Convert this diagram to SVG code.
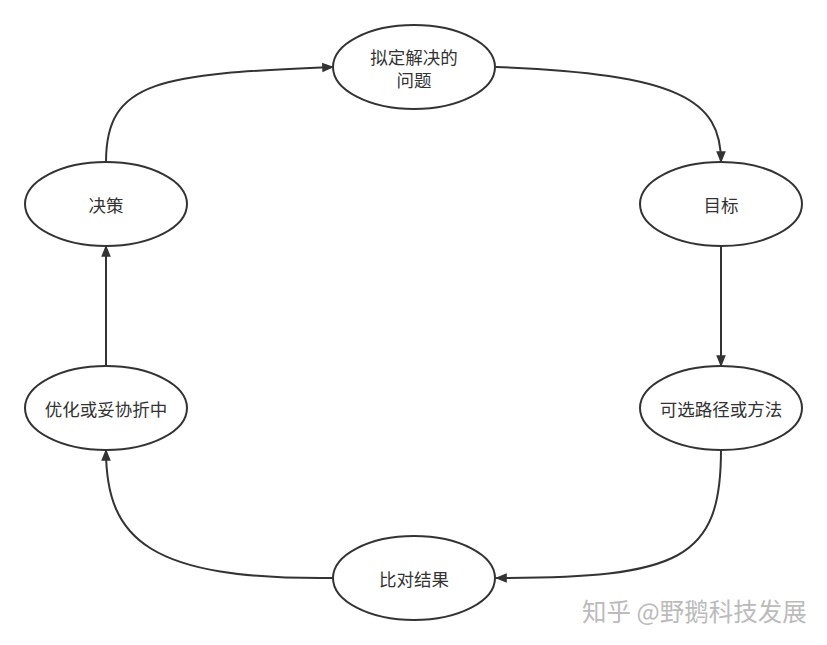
<svg xmlns="http://www.w3.org/2000/svg" width="827" height="645" viewBox="0 0 827 645">
<style>
.node ellipse{fill:#fff;stroke:#333;stroke-width:2}
.node text{font-family:"Noto Sans CJK SC","Liberation Sans",sans-serif;font-size:17.5px;fill:#333;text-anchor:middle;dominant-baseline:central}
.edge{fill:none;stroke:#333;stroke-width:2;marker-end:url(#arr)}
.wm{font-family:"Noto Sans CJK SC","Liberation Sans",sans-serif;font-size:24.5px;fill:#bbb}
</style>
<defs>
<marker id="arr" viewBox="0 0 10 10" refX="9" refY="5" markerWidth="12" markerHeight="12" markerUnits="userSpaceOnUse" orient="auto">
<path d="M0,1 L10,5 L0,9 Z" fill="#333"/>
</marker>
</defs>
<rect width="827" height="645" fill="#fff"/>
<g id="connectors">
<path class="edge" d="M106,162 C106,80 160,74 333,67"/>
<path class="edge" d="M496,67 C680,74 721,100 721,162"/>
<path class="edge" d="M721,246 L721,366"/>
<path class="edge" d="M721,450 C721,560 680,578 496,578"/>
<path class="edge" d="M333,578 C150,580 106,540 106,450"/>
<path class="edge" d="M106,366 L106,246"/>
</g>
<g id="n1" class="node"><ellipse cx="414" cy="67" rx="81" ry="42"/><text x="414" y="56">拟定解决的</text><text x="414" y="79">问题</text></g>
<g id="n2" class="node"><ellipse cx="721" cy="204" rx="81" ry="42"/><text x="721" y="204">目标</text></g>
<g id="n3" class="node"><ellipse cx="721" cy="408" rx="81" ry="42"/><text x="721" y="408">可选路径或方法</text></g>
<g id="n4" class="node"><ellipse cx="414" cy="578" rx="81" ry="42"/><text x="414" y="578">比对结果</text></g>
<g id="n5" class="node"><ellipse cx="106" cy="408" rx="81" ry="42"/><text x="106" y="408">优化或妥协折中</text></g>
<g id="n6" class="node"><ellipse cx="106" cy="204" rx="81" ry="42"/><text x="106" y="204">决策</text></g>
<text class="wm" x="582" y="621">知乎 @野鹅科技发展</text>
</svg>
